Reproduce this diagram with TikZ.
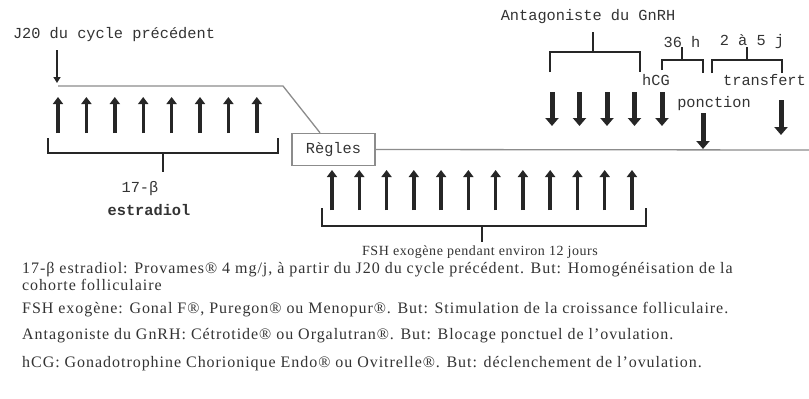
\documentclass[tikz,border=0pt]{standalone}
\usepackage{fontspec}
\setmainfont{Liberation Serif}
\setmonofont{Liberation Mono}
\newfontfamily\legfont[LetterSpace=6]{Liberation Serif}
\newfontfamily\smfont[LetterSpace=4]{Liberation Serif}
\usetikzlibrary{arrows.meta}
\begin{document}
\begin{tikzpicture}[x=1pt,y=-1pt,
  upar/.style={line width=3.4pt,black!85,-{Triangle[width=10pt,length=7pt]}},
  dnar/.style={line width=5pt,black!85,-{Triangle[width=13pt,length=8pt]}},
  jar/.style={line width=2.6pt,black!85,-{Triangle[width=7pt,length=6pt]}},
  brk/.style={line width=2.2pt,black!85},
  guide/.style={line width=1.3pt,black!45},
  mono/.style={font=\ttfamily\fontsize{15.3}{17}\selectfont,inner sep=0pt,black!80},
  body/.style={font=\legfont\fontsize{16}{18}\selectfont,anchor=west,inner sep=0pt,black!80},
  small/.style={font=\smfont\fontsize{14}{16}\selectfont,inner sep=0pt,black!80}]
\useasboundingbox[fill=white] (0,0) rectangle (809,399);

% top-left
\node[mono] (j20) at (114,35) {J20 du cycle précédent};
\coordinate (j20a) at (57,50);
\coordinate (j20b) at (57,83);
\draw[jar] (j20a) -- (j20b);
\coordinate (g1) at (58,86);
\coordinate (g2) at (283,86);

% left up arrows
\foreach \i in {0,...,7}{
  \coordinate (lb\i) at ({58+28.4*\i},133);
  \coordinate (lt\i) at ({58+28.4*\i},97);
  \draw[upar] (lb\i) -- (lt\i);
}
\draw[brk] (48,138) -- (48,153) -- (278,153) -- (278,138);
\draw[brk] (163,153) -- (163,172);
\node[mono] (e1) at (140,189) {17-β};
\node[mono,font=\ttfamily\bfseries\fontsize{15.3}{17}\selectfont] (e2) at (149,210) {estradiol};

% Regles box
\node[mono,draw=black!45,line width=1.5pt,minimum width=83pt,minimum height=32pt] (reg) at (333.5,149.5) {Règles};
\draw[guide] (g1) -- (g2) -- (reg.north -| 320,0);
\coordinate (rline) at (809,150);
\draw[guide] (reg.east) -- (rline);

% middle up arrows
\foreach \i in {0,...,11}{
  \coordinate (mb\i) at ({332+27.27*\i},210);
  \coordinate (mt\i) at ({332+27.27*\i},170);
  \draw[upar] (mb\i) -- (mt\i);
}
\draw[brk] (322,208) -- (322,226) -- (646,226) -- (646,208);
\draw[brk] (482,226) -- (482,242);
\node[small] (fsh) at (480,252) {FSH exogène pendant environ 12 jours};

% top right
\node[mono] (ant) at (588,17) {Antagoniste du GnRH};
\draw[brk] (550,72) -- (550,52) -- (640,52) -- (640,72);
\draw[brk] (593,52) -- (593,32);
\node[mono] (h36) at (682,42) {36 h};
\draw[brk] (662,70) -- (662,60) -- (703,60) -- (703,73);
\draw[brk] (682,60) -- (682,47);
\node[mono] (j25) at (752,42) {2 à 5 j};
\draw[brk] (712,73) -- (712,60) -- (782,60) -- (782,73);
\draw[brk] (747,60) -- (747,47);
\node[mono] (hcg) at (656,80) {hCG};
\node[mono,anchor=east] (tr) at (806,80) {transfert};
\node[mono] (pon) at (714,104) {ponction};

\foreach \i in {0,...,4}{
  \coordinate (dt\i) at ({552+27.5*\i},92);
  \coordinate (db\i) at ({552+27.5*\i},126);
  \draw[dnar] (dt\i) -- (db\i);
}
\coordinate (pt) at (703,113);
\coordinate (pb) at (703,149);
\draw[dnar] (pt) -- (pb);
\coordinate (tt) at (781,100);
\coordinate (tb) at (781,135);
\draw[dnar] (tt) -- (tb);

% legend
\node[body] (l1) at (22,270) {17-β estradiol: Provames® 4 mg/j, à partir du J20 du cycle précédent. But: Homogénéisation de la};
\node[body] (l2) at (22,285) {cohorte folliculaire};
\node[body] (l3) at (22,310) {FSH exogène: Gonal F®, Puregon® ou Menopur®. But: Stimulation de la croissance folliculaire.};
\node[body] (l4) at (22,336) {Antagoniste du GnRH: Cétrotide® ou Orgalutran®. But: Blocage ponctuel de l’ovulation.};
\node[body] (l5) at (22,364) {hCG: Gonadotrophine Chorionique Endo® ou Ovitrelle®. But: déclenchement de l’ovulation.};
\end{tikzpicture}
\end{document}
